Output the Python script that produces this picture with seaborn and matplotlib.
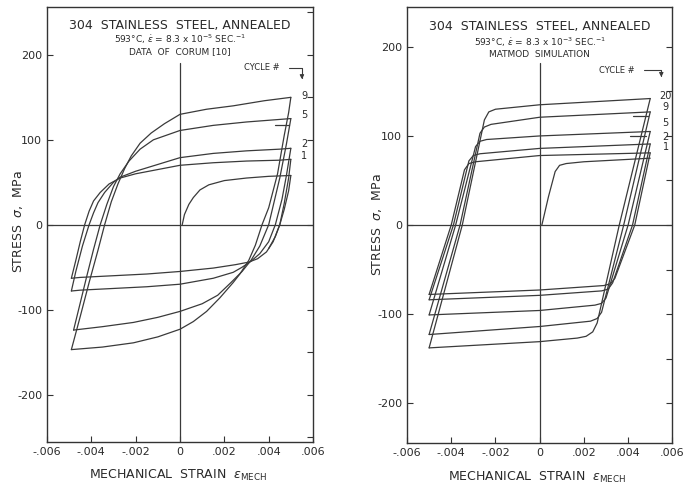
import matplotlib
matplotlib.use("Agg")
import matplotlib.pyplot as plt
import seaborn as sns
from matplotlib.ticker import MultipleLocator

#plot customization
sns.set_style("ticks", {
    'xtick.direction': 'in',
    'ytick.direction': 'in',
    'axes.edgecolor': '#333333',
})
plt.rcParams['font.family'] = ['DejaVu Sans']
plt.rcParams['mathtext.fontset'] = 'dejavusans'

line_color = '#3a3a3a'
text_color = '#2a2a2a'

#data: corum experiment (left panel), strain / stress MPa
corum_initial_x = [0.0001, 0.0002, 0.0004, 0.0006, 0.0009, 0.0013, 0.002, 0.003, 0.004, 0.005]
corum_initial_y = [0, 12, 24, 32, 41, 47, 52, 55, 57, 58]
corum_first_down_x = [0.005, 0.0049, 0.0047, 0.0045, 0.0043, 0.004]
corum_first_down_y = [58, 40, 18, 0, -14, -28]

corum_c1_up_x = [-0.0049, -0.0047, -0.0045, -0.0043, -0.0041, -0.0039, -0.0036, -0.0032, -0.0027, -0.002, -0.001, 0.0, 0.0015, 0.003, 0.0045, 0.005]
corum_c1_up_y = [-63, -42, -20, 0, 16, 28, 38, 48, 55, 60, 65, 70, 73, 75, 76, 77]
corum_c1_down_x = [0.005, 0.0049, 0.0047, 0.0045, 0.0042, 0.0039, 0.0035, 0.0031, 0.0025, 0.0015, 0.0, -0.0015, -0.003, -0.0045, -0.0049]
corum_c1_down_y = [77, 55, 25, 0, -20, -32, -40, -44, -47, -51, -55, -58, -60, -62, -63]

corum_c2_up_x = [-0.0049, -0.0047, -0.0044, -0.0041, -0.0039, -0.0037, -0.0034, -0.003, -0.0027, -0.002, -0.001, 0.0, 0.0015, 0.003, 0.0045, 0.005]
corum_c2_up_y = [-78, -55, -25, 0, 14, 26, 38, 50, 56, 63, 71, 79, 84, 87, 89, 90]
corum_c2_down_x = [0.005, 0.0048, 0.0046, 0.0043, 0.004, 0.0036, 0.0032, 0.0028, 0.0024, 0.0015, 0.0, -0.0015, -0.003, -0.0045, -0.0049]
corum_c2_down_y = [90, 58, 30, 0, -20, -34, -43, -50, -56, -63, -70, -73, -75, -77, -78]

corum_c5_up_x = [-0.0048, -0.0045, -0.0042, -0.0039, -0.0036, -0.0033, -0.003, -0.0027, -0.0023, -0.0018, -0.0012, 0.0, 0.0015, 0.003, 0.0045, 0.005]
corum_c5_up_y = [-124, -92, -60, -29, 0, 24, 45, 60, 75, 89, 100, 111, 117, 121, 124, 125]
corum_c5_down_x = [0.005, 0.0048, 0.0045, 0.004, 0.0036, 0.0032, 0.0028, 0.0023, 0.0017, 0.001, 0.0, -0.001, -0.0021, -0.0035, -0.0048]
corum_c5_down_y = [125, 95, 55, 0, -25, -42, -55, -68, -83, -93, -102, -109, -115, -120, -124]

corum_c9_up_x = [-0.0049, -0.0045, -0.0041, -0.0037, -0.0034, -0.0031, -0.0028, -0.0025, -0.0022, -0.0018, -0.0013, -0.0007, 0.0, 0.0012, 0.0024, 0.0038, 0.005]
corum_c9_up_y = [-147, -108, -68, -30, 0, 27, 48, 66, 81, 96, 108, 119, 130, 136, 140, 146, 150]
corum_c9_down_x = [0.005, 0.0049, 0.0047, 0.0044, 0.004, 0.0037, 0.0034, 0.0031, 0.0027, 0.0024, 0.0018, 0.0012, 0.0006, 0.0, -0.001, -0.0021, -0.0035, -0.0049]
corum_c9_down_y = [150, 132, 105, 60, 20, 0, -24, -42, -58, -68, -86, -102, -114, -123, -132, -139, -144, -147]

corum_mark_x = [0.0043, 0.0049]
corum_mark_y = [118, 118]

#data: matmod simulation (right panel)
matmod_initial_x = [0.0001, 0.0004, 0.0007, 0.0009, 0.0012, 0.002, 0.0035, 0.005]
matmod_initial_y = [0, 32, 60, 67, 69, 71, 73, 75]

matmod_c1_up_x = [-0.005, -0.004, -0.0034, -0.0032, -0.0029, 0.0, 0.005]
matmod_c1_up_y = [-78, 0, 62, 69, 71, 78, 81]
matmod_c1_down_x = [0.005, 0.0043, 0.0034, 0.0032, 0.0029, 0.0, -0.005]
matmod_c1_down_y = [81, 0, -60, -66, -68, -73, -78]

matmod_c2_up_x = [-0.005, -0.0039, -0.0032, -0.003, -0.0027, 0.0, 0.005]
matmod_c2_up_y = [-84, 0, 72, 78, 80, 86, 91]
matmod_c2_down_x = [0.005, 0.0042, 0.0033, 0.0031, 0.0028, 0.0, -0.005]
matmod_c2_down_y = [91, 0, -65, -72, -74, -79, -84]

matmod_c5_up_x = [-0.005, -0.0038, -0.0029, -0.0027, -0.0024, 0.0, 0.005]
matmod_c5_up_y = [-101, 0, 88, 94, 96, 100, 105]
matmod_c5_down_x = [0.005, 0.004, 0.003, 0.0028, 0.0025, 0.0, -0.005]
matmod_c5_down_y = [105, 0, -82, -88, -90, -96, -101]

matmod_c9_up_x = [-0.005, -0.0036, -0.0027, -0.0025, -0.0022, 0.0, 0.005]
matmod_c9_up_y = [-123, 0, 103, 110, 113, 121, 127]
matmod_c9_down_x = [0.005, 0.0038, 0.0028, 0.0026, 0.0023, 0.0, -0.005]
matmod_c9_down_y = [127, 0, -98, -105, -108, -114, -123]

matmod_c20_up_x = [-0.005, -0.0035, -0.0025, -0.0023, -0.002, 0.0, 0.005]
matmod_c20_up_y = [-138, 0, 118, 127, 130, 135, 142]
matmod_c20_down_x = [0.005, 0.0036, 0.0026, 0.0024, 0.0021, 0.0017, 0.0, -0.005]
matmod_c20_down_y = [142, 0, -110, -120, -125, -127, -131, -138]

matmod_mark1_x = [0.0042, 0.0049]
matmod_mark1_y = [122, 122]
matmod_mark2_x = [0.0041, 0.0048]
matmod_mark2_y = [100, 100]

#labels
x_ticks = [-0.006, -0.004, -0.002, 0, 0.002, 0.004, 0.006]
x_tick_labels = ['-.006', '-.004', '-.002', '0', '.002', '.004', '.006']
y_ticks = [-200, -100, 0, 100, 200]
y_tick_labels = ['-200', '-100', '0', '100', '200']

corum_cycles = ['9', '5', '2', '1']
corum_cycle_y = [152, 129, 95, 81]
matmod_cycles = ['20', '9', '5', '2', '1']
matmod_cycle_y = [145, 133, 114, 99, 88]

corum_branches = [
    (corum_initial_x, corum_initial_y), (corum_first_down_x, corum_first_down_y),
    (corum_c1_up_x, corum_c1_up_y), (corum_c1_down_x, corum_c1_down_y),
    (corum_c2_up_x, corum_c2_up_y), (corum_c2_down_x, corum_c2_down_y),
    (corum_c5_up_x, corum_c5_up_y), (corum_c5_down_x, corum_c5_down_y),
    (corum_c9_up_x, corum_c9_up_y), (corum_c9_down_x, corum_c9_down_y),
    (corum_mark_x, corum_mark_y),
]
matmod_branches = [
    (matmod_initial_x, matmod_initial_y),
    (matmod_c1_up_x, matmod_c1_up_y), (matmod_c1_down_x, matmod_c1_down_y),
    (matmod_c2_up_x, matmod_c2_up_y), (matmod_c2_down_x, matmod_c2_down_y),
    (matmod_c5_up_x, matmod_c5_up_y), (matmod_c5_down_x, matmod_c5_down_y),
    (matmod_c9_up_x, matmod_c9_up_y), (matmod_c9_down_x, matmod_c9_down_y),
    (matmod_c20_up_x, matmod_c20_up_y), (matmod_c20_down_x, matmod_c20_down_y),
    (matmod_mark1_x, matmod_mark1_y), (matmod_mark2_x, matmod_mark2_y),
]

fig = plt.figure(figsize=(6.91, 4.87), dpi=100)
fig.patch.set_facecolor('white')
ax1 = fig.add_axes([0.068, 0.092, 0.385, 0.893])
ax2 = fig.add_axes([0.589, 0.090, 0.384, 0.896])


def setup_panel(ax, branches, ylim, vline_top):
    for xs, ys in branches:
        sns.lineplot(x=xs, y=ys, sort=False, estimator=None, color=line_color,
                     lw=0.9, ax=ax)
    ax.axhline(0, color=line_color, lw=0.9)
    ax.plot([0, 0], [-ylim, vline_top], color=line_color, lw=0.9)
    ax.set_xlim(-0.006, 0.006)
    ax.set_ylim(-ylim, ylim)
    ax.set_xticks(x_ticks, x_tick_labels)
    ax.set_yticks(y_ticks, y_tick_labels)
    ax.yaxis.set_minor_locator(MultipleLocator(50))
    ax.tick_params(which='both', direction='in', right=True, length=4,
                   width=0.8, colors='#333333', labelsize=8, labelcolor=text_color)
    ax.tick_params(which='minor', left=False)
    for s in ax.spines.values():
        s.set_linewidth(1.0)
        s.set_color('#333333')
    ax.set_xlabel('')
    ax.set_ylabel('')


setup_panel(ax1, corum_branches, 256, 190)
setup_panel(ax2, matmod_branches, 245, 182)

# left panel texts
ax1.text(0, 235, '304  STAINLESS  STEEL, ANNEALED', ha='center', va='center',
         fontsize=9, color=text_color)
ax1.text(0, 218, r'593°C, $\dot{\epsilon}$ = 8.3 x 10$^{-5}$ SEC.$^{-1}$', ha='center',
         va='center', fontsize=6.5, color=text_color)
ax1.text(0, 204, 'DATA  OF  CORUM [10]', ha='center', va='center', fontsize=6.5,
         color=text_color)
ax1.text(0.0037, 185, 'CYCLE #', ha='center', va='center', fontsize=6, color=text_color)
ax1.annotate('', xy=(0.0055, 168), xytext=(0.0048, 185),
             arrowprops=dict(arrowstyle='-|>', connectionstyle='angle,angleA=0,angleB=90,rad=0',
                             color=line_color, lw=0.8, mutation_scale=6))
for lab, yv in zip(corum_cycles, corum_cycle_y):
    ax1.text(0.0056, yv, lab, ha='center', va='center', fontsize=7, color=text_color)

# right panel texts
ax2.text(0, 223, '304  STAINLESS  STEEL, ANNEALED', ha='center', va='center',
         fontsize=9, color=text_color)
ax2.text(0, 205, r'593°C, $\dot{\epsilon}$ = 8.3 x 10$^{-3}$ SEC.$^{-1}$', ha='center',
         va='center', fontsize=6.5, color=text_color)
ax2.text(0, 191, 'MATMOD  SIMULATION', ha='center', va='center', fontsize=6.5,
         color=text_color)
ax2.text(0.0035, 173, 'CYCLE #', ha='center', va='center', fontsize=6, color=text_color)
ax2.annotate('', xy=(0.0055, 163), xytext=(0.0046, 174),
             arrowprops=dict(arrowstyle='-|>', connectionstyle='angle,angleA=0,angleB=90,rad=0',
                             color=line_color, lw=0.8, mutation_scale=6))
for lab, yv in zip(matmod_cycles, matmod_cycle_y):
    ax2.text(0.0057, yv, lab, ha='center', va='center', fontsize=7, color=text_color)

# axis labels
fig.text(18 / 691, 1 - 222 / 487, r'STRESS  $\sigma$,  MPa', rotation=90, ha='center',
         va='center', fontsize=9, color=text_color)
fig.text(377 / 691, 1 - 225 / 487, r'STRESS  $\sigma$,  MPa', rotation=90, ha='center',
         va='center', fontsize=9, color=text_color)
fig.text(178 / 691, 1 - 475 / 487, r'MECHANICAL  STRAIN  $\epsilon_{\rm MECH}$', ha='center',
         va='center', fontsize=9, color=text_color)
fig.text(537 / 691, 1 - 477 / 487, r'MECHANICAL  STRAIN  $\epsilon_{\rm MECH}$', ha='center',
         va='center', fontsize=9, color=text_color)

plt.savefig('out.png', dpi=100)
